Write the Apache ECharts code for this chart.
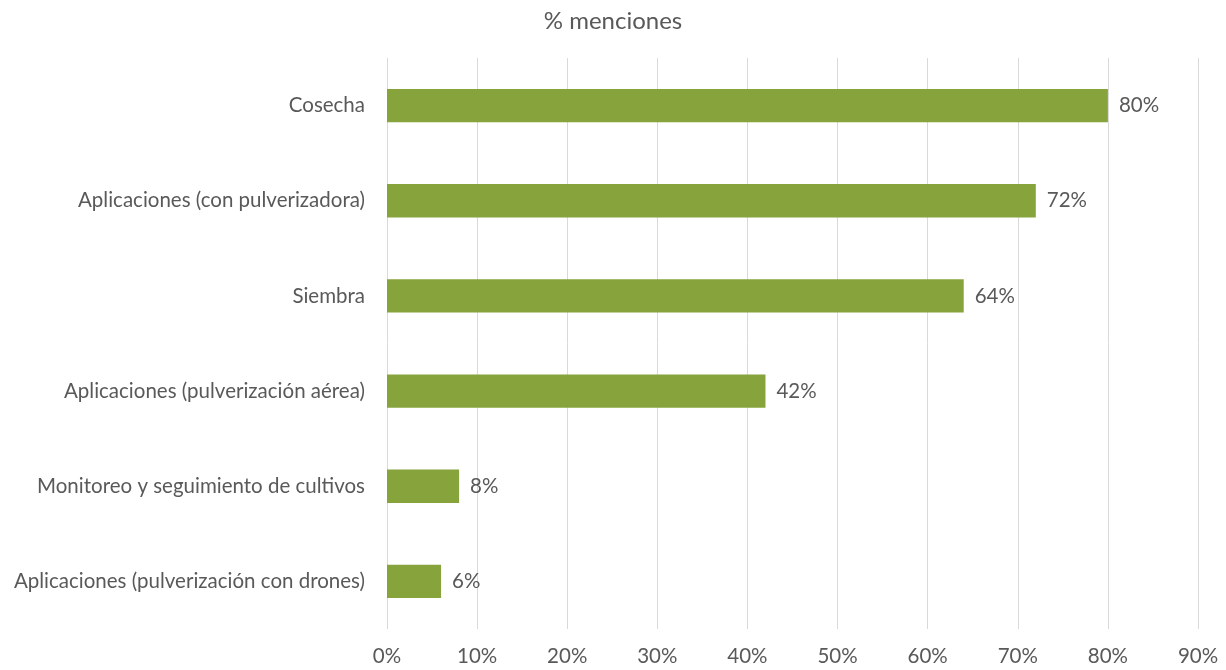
<!DOCTYPE html>
<html>
<head>
<meta charset="utf-8">
<script src="https://cdn.jsdelivr.net/npm/echarts@6/dist/echarts.min.js"></script>
<style>
  html, body { margin: 0; padding: 0; background: #ffffff; }
  #chart { width: 1226px; height: 670px; }
</style>
</head>
<body>
<div id="chart"></div>
<script>
// Categories listed bottom-to-top (ECharts category axis on y starts at bottom)
const categories = [
  'Aplicaciones (pulverización con drones)',
  'Monitoreo y seguimiento de cultivos',
  'Aplicaciones (pulverización aérea)',
  'Siembra',
  'Aplicaciones (con pulverizadora)',
  'Cosecha'
];
const mentions = [6, 8, 42, 64, 72, 80];
const xTicks = [0, 10, 20, 30, 40, 50, 60, 70, 80, 90];

const FONT = 'Lato, "Open Sans", sans-serif';
const GRAY = '#595959';

const chart = echarts.init(document.getElementById('chart'), null, { renderer: 'canvas' });
chart.setOption({
  animation: false,
  backgroundColor: '#ffffff',
  title: {
    text: '% menciones',
    left: 'center',
    top: 4,
    textStyle: { fontFamily: FONT, fontSize: 24, fontWeight: 'normal', color: GRAY }
  },
  grid: { left: 387, right: 28, top: 58, bottom: 41, containLabel: false },
  xAxis: {
    type: 'value',
    min: xTicks[0],
    max: xTicks[xTicks.length - 1],
    interval: 10,
    axisLine: { show: false },
    axisTick: { show: false },
    splitLine: { show: true, lineStyle: { color: '#d9d9d9', width: 1 } },
    axisLabel: {
      formatter: v => v + '%',
      fontFamily: FONT, fontSize: 20.5, color: GRAY, margin: 17
    }
  },
  yAxis: {
    type: 'category',
    data: categories,
    axisLine: { show: false },
    axisTick: { show: false },
    axisLabel: { fontFamily: FONT, fontSize: 20.5, color: GRAY, margin: 22 }
  },
  series: [{
    type: 'bar',
    data: mentions,
    barWidth: '35%',
    itemStyle: { color: '#86a43b' },
    label: {
      show: true,
      position: 'right',
      distance: 11,
      formatter: p => p.value + '%',
      fontFamily: FONT, fontSize: 20.5, color: GRAY
    }
  }]
});
</script>
</body>
</html>
